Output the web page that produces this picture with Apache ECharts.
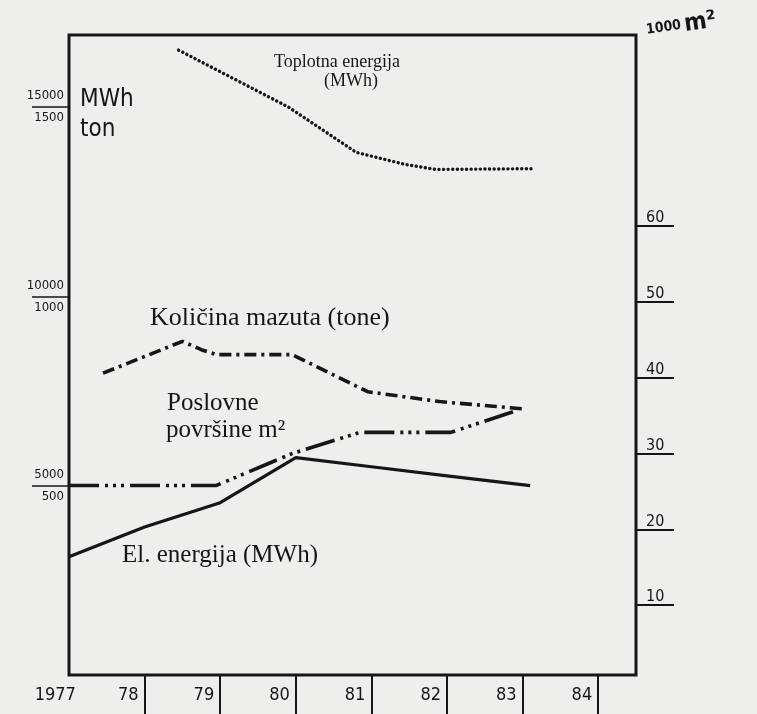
<!DOCTYPE html>
<html>
<head>
<meta charset="utf-8">
<title>Potrošnja energije 1977-1984</title>
<script src="https://cdn.jsdelivr.net/npm/echarts@6/dist/echarts.min.js"></script>
<style>
    html, body { margin: 0; padding: 0; background: #eeeeeb; }
    #main { width: 757px; height: 714px; }
</style>
</head>
<body>
<div id="main"></div>
<script type="text/javascript">
    // godine (x) i vrijednosti ocitane sa slike
    var elYears = [1977, 1978, 1979, 1980, 1981, 1982, 1983.1];
    var elValues = [3120, 3910, 4550, 5740, 5500, 5260, 5000];          // MWh

    var toplYears = [1978.45, 1979.9, 1980.8, 1981.45, 1981.85, 1983.15];
    var toplValues = [16500, 15000, 13800, 13480, 13350, 13370];       // MWh

    var mazYears = [1977.45, 1978.5, 1978.75, 1978.95, 1979.95, 1980.95, 1981.9, 1982.65, 1983];
    var mazValues = [7970, 8810, 8590, 8460, 8460, 7480, 7220, 7090, 7030]; // tone x10

    var poslYears = [1977, 1978.95, 1979.95, 1980.85, 1982.05, 1982.9];
    var poslValues = [25.8, 25.8, 30.0, 32.8, 32.8, 35.6];             // 1000 m2

    var yearTicks = [1978, 1979, 1980, 1981, 1982, 1983, 1984];
    var yearLabels = [1977.17, 1978, 1979, 1980, 1981, 1982, 1983, 1984];
    var leftTicks = [5000, 10000, 15000];
    var leftTon = {5000: '500', 10000: '1000', 15000: '1500'};
    var rightTicks = [10, 20, 30, 40, 50, 60];

    function pairs(xs, ys) {
        return xs.map(function (x, i) { return [x, ys[i]]; });
    }

    var ink = '#161616';
    var hand = "'DejaVu Sans Condensed', 'DejaVu Sans', sans-serif";
    var serif = "'Liberation Serif', 'DejaVu Serif', serif";

    var chart = echarts.init(document.getElementById('main'));
    chart.setOption({
        backgroundColor: '#eeeeeb',
        animation: false,
        grid: {
            left: 69, right: 121, top: 35, bottom: 39,
            show: true, borderColor: ink, borderWidth: 3
        },
        xAxis: {
            type: 'value', min: 1977, max: 1984.5,
            axisLine: {show: false},
            splitLine: {show: false},
            axisTick: {
                customValues: yearTicks, length: 40,
                lineStyle: {color: ink, width: 2}
            },
            axisLabel: {
                customValues: yearLabels,
                formatter: function (v) {
                    return v < 1978 ? '1977' : String(Math.round(v)).slice(2);
                },
                align: 'right', padding: [0, 6, 0, 0], margin: 10,
                color: ink, fontFamily: hand, fontSize: 18, lineHeight: 20
            }
        },
        yAxis: [{
            type: 'value', min: 0, max: 16900,
            axisLine: {show: false},
            splitLine: {show: false},
            axisTick: {
                customValues: leftTicks, length: 37,
                lineStyle: {color: ink, width: 1.5}
            },
            axisLabel: {
                customValues: leftTicks, margin: 5, align: 'right',
                formatter: function (v) { return '{a|' + v + '}\n{b|' + leftTon[v] + '}'; },
                rich: {
                    a: {fontFamily: hand, fontSize: 13, lineHeight: 22, color: ink},
                    b: {fontFamily: hand, fontSize: 13, lineHeight: 22, color: ink}
                }
            }
        }, {
            type: 'value', position: 'right', min: 0.8, max: 85.2,
            axisLine: {show: false},
            splitLine: {show: false},
            axisTick: {
                customValues: rightTicks, length: 38,
                lineStyle: {color: ink, width: 2}
            },
            axisLabel: {
                customValues: rightTicks, margin: 10, align: 'left',
                verticalAlign: 'bottom', lineHeight: 16,
                color: ink, fontFamily: hand, fontSize: 16
            }
        }],
        series: [{
            name: 'El. energija (MWh)',
            type: 'line', symbol: 'none',
            lineStyle: {color: ink, width: 3.2},
            data: pairs(elYears, elValues)
        }, {
            name: 'Toplotna energija (MWh)',
            type: 'line', symbol: 'none',
            lineStyle: {color: ink, width: 3.4, type: [0.1, 4.5], cap: 'round'},
            data: pairs(toplYears, toplValues)
        }, {
            name: 'Količina mazuta (tone)',
            type: 'line', symbol: 'none',
            lineStyle: {color: ink, width: 3.6, type: [12, 5, 3, 5]},
            data: pairs(mazYears, mazValues)
        }, {
            name: 'Poslovne površine m²',
            type: 'line', symbol: 'none', yAxisIndex: 1,
            lineStyle: {color: ink, width: 3.6, type: [30, 6, 3, 5, 3, 5, 3, 6]},
            data: pairs(poslYears, poslValues)
        }],
        graphic: [
            {type: 'text', left: 80, top: 88, style: {text: 'MWh', font: '24px ' + hand, fill: ink}},
            {type: 'text', left: 80, top: 118, style: {text: 'ton', font: '24px ' + hand, fill: ink}},
            {type: 'text', x: 648, y: 42, rotation: 0.14,
                style: {
                    text: '{a|1000} {b|m²}', verticalAlign: 'bottom',
                    rich: {
                        a: {font: 'bold 14px ' + hand, fill: ink},
                        b: {font: 'bold 24px ' + hand, fill: ink}
                    }
                }},
            {type: 'text', x: 337, y: 62,
                style: {text: 'Toplotna energija', font: '18px ' + serif, fill: ink, align: 'center', verticalAlign: 'middle'}},
            {type: 'text', x: 351, y: 81,
                style: {text: '(MWh)', font: '18px ' + serif, fill: ink, align: 'center', verticalAlign: 'middle'}},
            {type: 'text', x: 150, y: 318,
                style: {text: 'Količina mazuta (tone)', font: '26px ' + serif, fill: ink, verticalAlign: 'middle'}},
            {type: 'text', x: 167, y: 403,
                style: {text: 'Poslovne', font: '25px ' + serif, fill: ink, verticalAlign: 'middle'}},
            {type: 'text', x: 166, y: 430,
                style: {text: 'površine m²', font: '25px ' + serif, fill: ink, verticalAlign: 'middle'}},
            {type: 'text', x: 122, y: 555,
                style: {text: 'El. energija (MWh)', font: '25px ' + serif, fill: ink, verticalAlign: 'middle'}}
        ]
    });
</script>
</body>
</html>
